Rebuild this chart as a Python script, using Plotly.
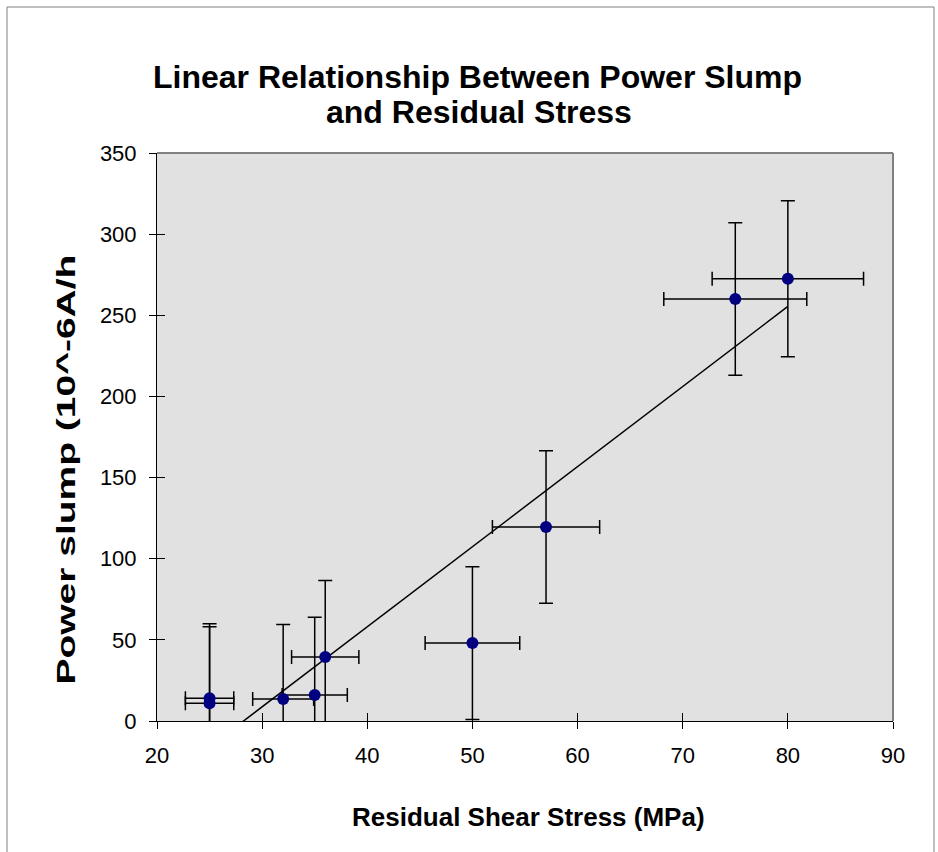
import numpy as np
import plotly.graph_objects as go

# ---- data ----
stress = [25, 25, 32, 35, 36, 50, 57, 75, 80]
slump = [14, 11, 13.5, 16, 39.5, 48, 119.5, 260, 272.5]
stress_err = [2.3, 2.3, 2.9, 3.1, 3.2, 4.5, 5.1, 6.8, 7.2]
slump_err = [46, 47, 46, 48, 47, 47, 47, 47, 48]
x_ticks = [20, 30, 40, 50, 60, 70, 80, 90]
y_ticks = [0, 50, 100, 150, 200, 250, 300, 350]

title_lines = ["Linear Relationship Between Power Slump", "and Residual Stress"]
x_title = "Residual Shear Stress (MPa)"
y_title = "Power slump (10^-6A/h"

# linear trendline over the data range
slope, intercept = np.polyfit(stress, slump, 1)
fit_x = [min(stress), max(stress)]
fit_y = [slope * v + intercept for v in fit_x]

FONT = "Liberation Sans, Arial, sans-serif"

# plot-area pixel geometry (used to convert page pixels to paper coords)
L, R, T, B = 157, 893, 153, 721
W, H = R - L, B - T


def px(x):
    return (x - L) / W


def py(y):
    return (B - y) / H


fig = go.Figure()
fig.add_trace(go.Scatter(
    x=fit_x, y=fit_y, mode="lines",
    line=dict(color="black", width=1.5),
    hoverinfo="skip", showlegend=False,
))
fig.add_trace(go.Scatter(
    x=stress, y=slump, mode="markers",
    marker=dict(color="#000080", size=12, line=dict(width=0)),
    error_x=dict(type="data", array=stress_err, color="black", thickness=1.5, width=7),
    error_y=dict(type="data", array=slump_err, color="black", thickness=1.5, width=7),
    showlegend=False,
))
# invisible trace for overlay axes (inside half of the crossing ticks)
fig.add_trace(go.Scatter(x=[20], y=[0], xaxis="x2", yaxis="y2", mode="markers",
                         marker=dict(opacity=0), hoverinfo="skip", showlegend=False))

axis_common = dict(showgrid=False, zeroline=False, showline=True, linecolor="black",
                   linewidth=1, ticks="outside", ticklen=7, tickcolor="black", tickwidth=1,
                   tickfont=dict(family=FONT, size=22, color="black"))

annotations = [
    dict(text="<b>" + title_lines[0] + "</b>", xref="paper", yref="paper",
         x=px(477), y=py(77), xanchor="center", yanchor="middle", showarrow=False,
         font=dict(family=FONT, size=32, color="black")),
    dict(text="<b>" + title_lines[1] + "</b>", xref="paper", yref="paper",
         x=px(479), y=py(112), xanchor="center", yanchor="middle", showarrow=False,
         font=dict(family=FONT, size=32, color="black")),
    dict(text="<b>" + x_title + "</b>", xref="paper", yref="paper", x=px(528), y=py(817),
         xanchor="center", yanchor="middle", showarrow=False,
         font=dict(family=FONT, size=26, color="black")),
    dict(text="<b>" + y_title + "</b>", xref="paper", yref="paper", x=px(66), y=py(470),
         xanchor="center", yanchor="middle", showarrow=False, textangle=-90,
         font=dict(family=FONT, size=26, color="black")),
]

fig.update_layout(
    width=938, height=852,
    margin=dict(l=L, r=938 - R, t=T, b=852 - B),
    paper_bgcolor="white",
    plot_bgcolor="#E1E1E1",
    xaxis=dict(range=[20, 90], tickvals=x_ticks, ticklabelstandoff=8, **axis_common),
    yaxis=dict(range=[0, 350], tickvals=y_ticks, ticklabelstandoff=8, **axis_common),
    xaxis2=dict(range=[20, 90], tickvals=x_ticks, overlaying="x", anchor="y", showticklabels=False,
                ticks="inside", ticklen=8, tickcolor="black", showgrid=False, zeroline=False,
                showline=False),
    yaxis2=dict(range=[0, 350], tickvals=y_ticks, overlaying="y", anchor="x", showticklabels=False,
                ticks="inside", ticklen=8, tickcolor="black", showgrid=False, zeroline=False,
                showline=False),
    annotations=annotations,
    shapes=[
        # plot area top/right border
        dict(type="line", xref="paper", yref="paper", x0=0, x1=1, y0=1, y1=1,
             line=dict(color="#808080", width=2), layer="above"),
        dict(type="line", xref="paper", yref="paper", x0=1, x1=1, y0=0, y1=1,
             line=dict(color="#808080", width=2), layer="above"),
        # chart outer border (left, top, right)
        dict(type="path", xref="paper", yref="paper",
             path=f"M {px(7)} {py(870)} L {px(7)} {py(7)} L {px(934)} {py(7)} L {px(934)} {py(870)}",
             line=dict(color="#808080", width=1)),
    ],
)

# the reference's vertical axis title is drawn stretched along its length
post_js = """
var gd = document.getElementById('{plot_id}');
function stretchTitle() {
  var nodes = gd.querySelectorAll('text.annotation-text');
  nodes.forEach(function (n) {
    if (n.textContent.indexOf('Power slump') === 0) {
      n.setAttribute('textLength', '430');
      n.setAttribute('lengthAdjust', 'spacingAndGlyphs');
    }
  });
}
stretchTitle();
setTimeout(stretchTitle, 0);
gd.on('plotly_afterplot', stretchTitle);
"""

fig.write_html("out.html", post_script=post_js)
